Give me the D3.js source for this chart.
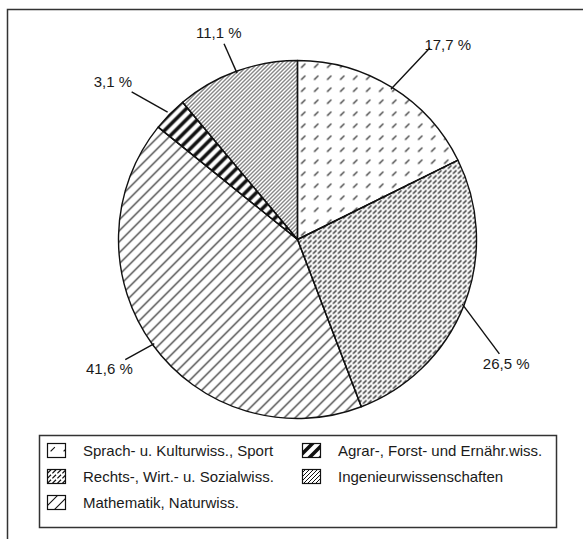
<!DOCTYPE html>
<html>
<head>
    <script src="https://d3js.org/d3.v7.min.js"></script>
    <style>
        body { margin: 0; background: #fff; }
        text { font-family: "Liberation Sans", Arial, sans-serif; fill: #1a1a1a; }
    </style>
</head>
<body>
    <div id="chart"></div>
    <script>

        // Daten
        const categories = [
            "Sprach- u. Kulturwiss., Sport",
            "Rechts-, Wirt.- u. Sozialwiss.",
            "Mathematik, Naturwiss.",
            "Agrar-, Forst- und Ernähr.wiss.",
            "Ingenieurwissenschaften"
        ];
        const values = [17.7, 26.5, 41.6, 3.1, 11.1];
        const valueLabels = ["17,7 %", "26,5 %", "41,6 %", "3,1 %", "11,1 %"];

        // Lage der Beschriftungen (Winkel-Versatz in Grad, Radius)
        const leaderEnd = [[2.8, 233], [8.1, 232], [1.1, 210], [-2.8, 222], [-0.6, 209]];
        const labelAt   = [[5.8, 246], [9.4, 243], [1.6, 228], [-3.9, 243], [-0.9, 221]];

        const width = 583, height = 539;
        const cx = 297.5, cy = 239.5, R = 179;

        const svg = d3.select("#chart")
            .append("svg")
            .attr("width", width)
            .attr("height", height);

        // Muster
        const defs = svg.append("defs");
        function addPattern(id, size, h, path, sw) {
            defs.append("pattern")
                .attr("id", id)
                .attr("patternUnits", "userSpaceOnUse")
                .attr("width", size)
                .attr("height", h)
                .append("path")
                .attr("d", path)
                .attr("stroke", "#111")
                .attr("stroke-width", sw)
                .attr("stroke-linecap", "square")
                .attr("fill", "none");
        }
        addPattern("p0", 13, 12, "M4,8 L7.5,4.5", 1.1);
        addPattern("p1", 5, 5, "M0.8,4 L3.6,1.2", 1.2);
        addPattern("p2", 11, 11, "M0,11 L11,0 M-1,1 L1,-1 M10,12 L12,10", 1.1);
        addPattern("p3", 11, 11, "M0,11 L11,0 M-2,2 L2,-2 M9,13 L13,9", 3.6);
        addPattern("p4", 4, 4, "M0,4 L4,0 M-1,1 L1,-1 M3,5 L5,3", 1);

        const fills = categories.map((c, i) => "url(#p" + i + ")");

        // Rahmen
        svg.append("rect")
            .attr("x", 7.5).attr("y", 9.5)
            .attr("width", 600).attr("height", 600)
            .attr("fill", "none")
            .attr("stroke", "#333")
            .attr("stroke-width", 1.5);

        const pie = d3.pie().sort(null).value(d => d);
        const arcs = pie(values);
        const arc = d3.arc().innerRadius(0).outerRadius(R);

        const g = svg.append("g").attr("transform", `translate(${cx},${cy})`);

        g.selectAll("path.slice")
            .data(arcs)
            .enter()
            .append("path")
            .attr("class", "slice")
            .attr("d", arc)
            .attr("fill", (d, i) => fills[i])
            .attr("stroke", "#111")
            .attr("stroke-width", 1.4)
            .attr("stroke-linejoin", "round");

        function polar(angle, r) {
            return [Math.sin(angle) * r, -Math.cos(angle) * r];
        }
        const deg = Math.PI / 180;

        // Hinweislinien
        g.selectAll("line.leader")
            .data(arcs)
            .enter()
            .append("line")
            .attr("class", "leader")
            .each(function (d, i) {
                const mid = (d.startAngle + d.endAngle) / 2;
                const p1 = polar(mid, i === 3 ? R + 3 : R - 2);
                const p2 = polar(mid + leaderEnd[i][0] * deg, leaderEnd[i][1]);
                d3.select(this)
                    .attr("x1", p1[0]).attr("y1", p1[1])
                    .attr("x2", p2[0]).attr("y2", p2[1]);
            })
            .attr("stroke", "#111")
            .attr("stroke-width", 1.4);

        g.selectAll("text.val")
            .data(arcs)
            .enter()
            .append("text")
            .attr("class", "val")
            .each(function (d, i) {
                const mid = (d.startAngle + d.endAngle) / 2;
                const p = polar(mid + labelAt[i][0] * deg, labelAt[i][1]);
                d3.select(this).attr("x", p[0]).attr("y", p[1]);
            })
            .attr("text-anchor", "middle")
            .attr("dy", "0.36em")
            .attr("font-size", 15)
            .text((d, i) => valueLabels[i]);

        // Legende
        svg.append("rect")
            .attr("x", 39.5).attr("y", 435.5)
            .attr("width", 517).attr("height", 92)
            .attr("fill", "#fff")
            .attr("stroke", "#333")
            .attr("stroke-width", 1.5);

        const legendCols = [47, 302];
        const legendRows = [443, 469, 495];
        const legend = svg.selectAll("g.leg")
            .data(categories)
            .enter()
            .append("g")
            .attr("class", "leg")
            .attr("transform", (d, i) => {
                const col = i < 3 ? 0 : 1;
                const row = i < 3 ? i : i - 3;
                return `translate(${legendCols[col]},${legendRows[row]})`;
            });

        legend.append("rect")
            .attr("x", 0.5).attr("y", 0.5)
            .attr("width", 18).attr("height", 14)
            .attr("fill", (d, i) => fills[i])
            .attr("stroke", "#111")
            .attr("stroke-width", 1.2);

        legend.append("text")
            .attr("x", 36)
            .attr("y", 7.5)
            .attr("dy", "0.36em")
            .attr("font-size", 15)
            .text(d => d);

    </script>
</body>
</html>
